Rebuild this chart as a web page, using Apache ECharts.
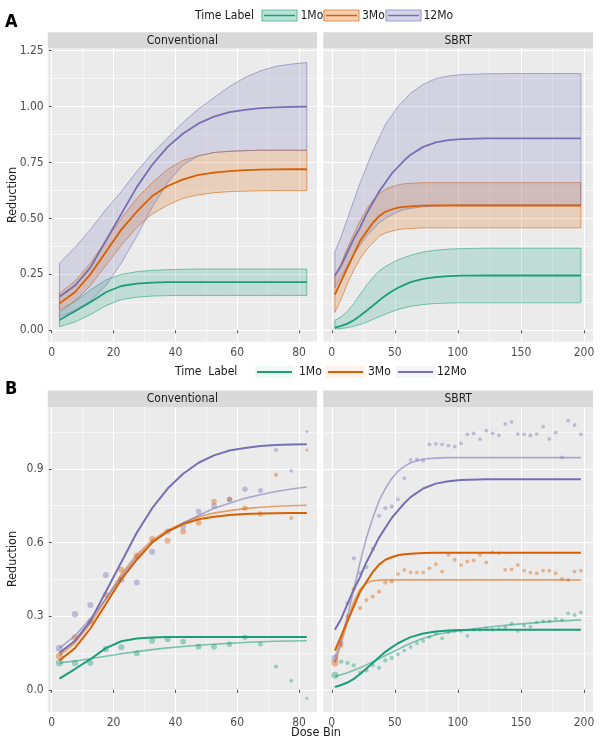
<!DOCTYPE html>
<html><head><meta charset="utf-8">
<script src="https://cdn.jsdelivr.net/npm/echarts@6/dist/echarts.min.js"></script>
<style>html,body{margin:0;padding:0;background:#fff}#c{width:600px;height:740px}</style>
</head><body><div id="c"></div>
<script>
// ---------- DATA ----------
const timeLabels = ['1Mo', '3Mo', '12Mo'];
const facets = ['Conventional', 'SBRT'];

const convXTicks = [0, 20, 40, 60, 80];
const sbrtXTicks = [0, 50, 100, 150, 200];
const aYTicks = [0, 0.25, 0.5, 0.75, 1.0, 1.25];
const bYTicks = [0, 0.3, 0.6, 0.9];

// Panel A - Conventional
const convX = [2.5,7.5,12.5,17.5,22.5,27.5,32.5,37.5,42.5,47.5,52.5,57.5,62.5,67.5,72.5,77.5,82.5];
const convMean1Mo = [0.046,0.085,0.125,0.17,0.198,0.209,0.213,0.215,0.215,0.215,0.215,0.215,0.215,0.215,0.215,0.215,0.215];
const convLo1Mo   = [0.016,0.037,0.07,0.11,0.137,0.148,0.153,0.155,0.156,0.156,0.156,0.156,0.156,0.156,0.156,0.156,0.156];
const convHi1Mo   = [0.08,0.13,0.18,0.225,0.25,0.262,0.268,0.271,0.273,0.274,0.274,0.274,0.274,0.274,0.274,0.274,0.274];
const convMean3Mo = [0.12,0.17,0.25,0.35,0.45,0.53,0.60,0.645,0.675,0.695,0.705,0.712,0.716,0.718,0.719,0.72,0.72];
const convLo3Mo   = [0.09,0.13,0.20,0.29,0.38,0.46,0.52,0.56,0.59,0.605,0.615,0.62,0.622,0.624,0.625,0.625,0.625];
const convHi3Mo   = [0.165,0.22,0.30,0.40,0.50,0.59,0.66,0.72,0.76,0.78,0.795,0.80,0.803,0.805,0.805,0.805,0.805];
const convMean12Mo = [0.15,0.20,0.28,0.40,0.52,0.64,0.74,0.82,0.88,0.925,0.955,0.975,0.985,0.993,0.997,0.999,1.0];
const convLo12Mo   = [0.06,0.09,0.13,0.20,0.30,0.42,0.55,0.66,0.74,0.78,0.795,0.80,0.803,0.805,0.805,0.805,0.805];
const convHi12Mo   = [0.30,0.37,0.45,0.54,0.62,0.71,0.79,0.86,0.93,0.99,1.04,1.09,1.13,1.16,1.18,1.19,1.197];

// Panel A - SBRT
const sbrtX = [2.5,7.5,12.5,17.5,22.5,27.5,32.5,37.5,42.5,47.5,52.5,57.5,62.5,72.5,82.5,92.5,102.5,122.5,147.5,172.5,197.5];
const sbrtMean1Mo = [0.012,0.02,0.03,0.045,0.065,0.087,0.11,0.133,0.155,0.173,0.19,0.203,0.215,0.23,0.238,0.242,0.244,0.245,0.245,0.245,0.245];
const sbrtLo1Mo   = [0.005,0.008,0.012,0.018,0.026,0.036,0.048,0.06,0.072,0.083,0.093,0.10,0.107,0.115,0.12,0.122,0.123,0.123,0.123,0.123,0.123];
const sbrtHi1Mo   = [0.045,0.06,0.085,0.12,0.16,0.20,0.235,0.265,0.285,0.30,0.315,0.325,0.335,0.35,0.358,0.363,0.365,0.367,0.367,0.367,0.367];
const sbrtMean3Mo = [0.16,0.22,0.28,0.34,0.40,0.44,0.48,0.51,0.53,0.54,0.548,0.552,0.554,0.557,0.558,0.558,0.558,0.558,0.558,0.558,0.558];
const sbrtLo3Mo   = [0.08,0.14,0.21,0.27,0.32,0.36,0.39,0.42,0.435,0.443,0.45,0.453,0.455,0.458,0.458,0.458,0.458,0.458,0.458,0.458,0.458];
const sbrtHi3Mo   = [0.24,0.30,0.37,0.43,0.49,0.54,0.58,0.61,0.63,0.642,0.65,0.655,0.657,0.66,0.66,0.66,0.66,0.66,0.66,0.66,0.66];
const sbrtMean12Mo = [0.245,0.29,0.35,0.41,0.46,0.52,0.57,0.62,0.66,0.70,0.73,0.76,0.785,0.82,0.84,0.85,0.855,0.858,0.858,0.858,0.858];
const sbrtLo12Mo   = [0.19,0.24,0.29,0.34,0.38,0.42,0.45,0.48,0.50,0.515,0.53,0.54,0.545,0.552,0.556,0.558,0.56,0.56,0.56,0.56,0.56];
const sbrtHi12Mo   = [0.35,0.42,0.50,0.58,0.66,0.73,0.80,0.86,0.92,0.96,1.00,1.03,1.06,1.10,1.125,1.137,1.143,1.147,1.148,1.148,1.148];

// Panel B - second fit curves
const convFit1Mo  = [0.11,0.118,0.127,0.137,0.147,0.156,0.164,0.171,0.177,0.182,0.186,0.19,0.193,0.196,0.198,0.199,0.20];
const convFit3Mo  = [0.14,0.19,0.27,0.37,0.47,0.55,0.61,0.65,0.68,0.705,0.72,0.73,0.738,0.744,0.748,0.75,0.752];
const convFit12Mo = [0.17,0.22,0.29,0.37,0.46,0.54,0.60,0.645,0.68,0.71,0.74,0.76,0.78,0.795,0.808,0.818,0.826];
const sbrtFit1Mo  = [0.055,0.062,0.07,0.08,0.09,0.102,0.115,0.127,0.14,0.152,0.165,0.178,0.19,0.21,0.225,0.235,0.242,0.255,0.268,0.278,0.285];
const sbrtFit3Mo  = [0.11,0.19,0.28,0.36,0.41,0.435,0.444,0.447,0.448,0.448,0.448,0.448,0.448,0.448,0.448,0.448,0.448,0.448,0.448,0.448,0.448];
const sbrtFit12Mo = [0.13,0.21,0.30,0.41,0.52,0.62,0.70,0.77,0.82,0.86,0.89,0.91,0.925,0.94,0.944,0.946,0.946,0.946,0.946,0.946,0.946];

// Panel B - observed points (dose bins)
const convBins = [2.5,7.5,12.5,17.5,22.5,27.5,32.5,37.5,42.5,47.5,52.5,57.5,62.5,67.5,72.5,77.5,82.5];
const convCount = [12,9,8,8,8,8,8,8,7,7,7,6,6,5,3,2,1];
const convPts1Mo  = [0.11,0.11,0.11,0.166,0.174,0.149,0.20,0.206,0.197,0.176,0.176,0.186,0.214,0.187,0.095,0.037,-0.034];
const convPts3Mo  = [0.138,0.214,0.28,0.387,0.489,0.546,0.614,0.607,0.645,0.681,0.767,0.776,0.74,0.717,0.876,0.70,0.977];
const convPts12Mo = [0.17,0.308,0.346,0.468,0.448,0.437,0.563,0.645,0.665,0.726,0.749,0.776,0.817,0.812,0.977,0.892,1.052];

const sbrtBins = [2.5,7.5,12.5,17.5,22.5,27.5,32.5,37.5,42.5,47.5,52.5,57.5,62.5,67.5,72.5,77.5,82.5,87.5,92.5,97.5,
                  102.5,107.5,112.5,117.5,122.5,127.5,132.5,137.5,142.5,147.5,152.5,157.5,162.5,167.5,172.5,177.5,182.5,187.5,192.5,197.5];
const sbrtCount = [12,3,3,3,3,3,3,3,3,3,2,2,2,2,2,2,2,2,2,2,2,2,2,2,2,2,2,2,2,2,2,2,2,2,2,2,2,2,2,2];
const sbrtPts1Mo  = [0.06,0.115,0.11,0.10,0.07,0.08,0.10,0.09,0.12,0.13,0.145,0.16,0.175,0.19,0.20,0.215,0.23,0.21,0.235,0.24,
                     0.24,0.22,0.245,0.245,0.248,0.245,0.248,0.255,0.27,0.24,0.262,0.258,0.275,0.28,0.28,0.29,0.285,0.312,0.305,0.316];
const sbrtPts3Mo  = [0.11,0.18,0.30,0.41,0.333,0.366,0.38,0.40,0.437,0.441,0.472,0.489,0.479,0.479,0.479,0.495,0.512,0.482,0.55,0.53,
                     0.509,0.523,0.527,0.55,0.519,0.559,0.557,0.489,0.491,0.509,0.486,0.478,0.475,0.486,0.486,0.475,0.452,0.448,0.482,0.486];
const sbrtPts12Mo = [0.13,0.19,0.353,0.536,0.475,0.50,0.574,0.709,0.74,0.747,0.776,0.862,0.937,0.939,0.933,1.00,1.002,1.0,0.995,0.991,
                     1.004,1.041,1.045,1.021,1.056,1.045,1.036,1.083,1.091,1.042,1.041,1.036,1.042,1.072,1.022,1.048,0.947,1.097,1.079,1.041];

// ---------- STYLE / LAYOUT ----------
const FONT = "'DejaVu Sans Condensed','Liberation Sans Narrow','DejaVu Sans',sans-serif";
const COLORS = ['#1B9E77', '#D95F02', '#7570B3'];
function rgba(hex, a) { const n = parseInt(hex.slice(1), 16); return 'rgba(' + ((n >> 16) & 255) + ',' + ((n >> 8) & 255) + ',' + (n & 255) + ',' + a + ')'; }

const GRIDS = [
  { left: 47.7, top: 48, width: 269.3, height: 293.7 },
  { left: 323.3, top: 48, width: 269.7, height: 293.7 },
  { left: 47.7, top: 407, width: 269.3, height: 305 },
  { left: 323.3, top: 407, width: 269.7, height: 305 }
];
const XSPEC = [
  { min: -1.3, max: 85.8, major: convXTicks, minor: [10, 30, 50, 70] },
  { min: -6.7, max: 207.1, major: sbrtXTicks, minor: [25, 75, 125, 175] },
  { min: -1.3, max: 85.8, major: convXTicks, minor: [10, 30, 50, 70] },
  { min: -6.7, max: 207.1, major: sbrtXTicks, minor: [25, 75, 125, 175] }
];
const YSPEC = [
  { min: -0.051, max: 1.262, major: aYTicks, minor: [0.125, 0.375, 0.625, 0.875, 1.125], dec: 2, labels: true },
  { min: -0.051, max: 1.262, major: aYTicks, minor: [0.125, 0.375, 0.625, 0.875, 1.125], dec: 2, labels: false },
  { min: -0.09, max: 1.152, major: bYTicks, minor: [0.15, 0.45, 0.75, 1.05], dec: 1, labels: true },
  { min: -0.09, max: 1.152, major: bYTicks, minor: [0.15, 0.45, 0.75, 1.05], dec: 1, labels: false }
];

const grid = GRIDS.map(g => Object.assign({ show: true, backgroundColor: '#EBEBEB', borderWidth: 0, containLabel: false, outerBoundsMode: 'none' }, g));
const xAxis = [], yAxis = [];
XSPEC.forEach((s, i) => {
  xAxis.push({
    gridIndex: i, type: 'value', min: s.min, max: s.max, position: 'bottom',
    axisLine: { show: false },
    axisTick: { show: true, length: 3, lineStyle: { color: '#555', width: 1 }, customValues: s.major },
    axisLabel: { show: true, customValues: s.major, color: '#4D4D4D', fontSize: 12, fontFamily: FONT, margin: 5, formatter: v => String(Math.round(v)) },
    splitLine: { show: true, lineStyle: { color: '#FFFFFF', width: 1.1 } }
  });
});
XSPEC.forEach((s, i) => {
  xAxis.push({
    gridIndex: i, type: 'value', min: s.min, max: s.max, position: 'top',
    axisLine: { show: false },
    axisTick: { show: false, customValues: s.minor },
    axisLabel: { show: false, customValues: s.minor },
    splitLine: { show: true, lineStyle: { color: '#FFFFFF', width: 0.5 } }
  });
});
YSPEC.forEach((s, i) => {
  yAxis.push({
    gridIndex: i, type: 'value', min: s.min, max: s.max, position: 'left',
    axisLine: { show: false },
    axisTick: { show: s.labels, length: 3, lineStyle: { color: '#555', width: 1 }, customValues: s.major },
    axisLabel: { show: s.labels, customValues: s.major, color: '#4D4D4D', fontSize: 12, fontFamily: FONT, margin: 4, formatter: v => v.toFixed(s.dec) },
    splitLine: { show: true, lineStyle: { color: '#FFFFFF', width: 1.1 } }
  });
});
YSPEC.forEach((s, i) => {
  yAxis.push({
    gridIndex: i, type: 'value', min: s.min, max: s.max, position: 'right',
    axisLine: { show: false },
    axisTick: { show: false, customValues: s.minor },
    axisLabel: { show: false, customValues: s.minor },
    splitLine: { show: true, lineStyle: { color: '#FFFFFF', width: 0.5 } }
  });
});

const zip = (xs, ys) => xs.map((x, i) => [x, ys[i]]);
const series = [];

function ribbon(xs, lo, hi, color, gi) {
  return {
    type: 'custom', xAxisIndex: gi, yAxisIndex: gi, silent: true, z: 2,
    data: xs.map((x, i) => [x, lo[i], hi[i]]),
    encode: { x: 0, y: [1, 2] },
    renderItem: function (params, api) {
      if (params.dataIndex !== 0) return null;
      const pts = [];
      for (let i = 0; i < xs.length; i++) pts.push(api.coord([xs[i], hi[i]]));
      for (let i = xs.length - 1; i >= 0; i--) pts.push(api.coord([xs[i], lo[i]]));
      return { type: 'polygon', shape: { points: pts }, style: { fill: rgba(color, 0.2), stroke: rgba(color, 0.55), lineWidth: 1 } };
    }
  };
}
function line(xs, ys, color, gi, width, z, name) {
  return { type: 'line', name: name, xAxisIndex: gi, yAxisIndex: gi, data: zip(xs, ys), showSymbol: false, symbol: 'none', silent: true, z: z,
    lineStyle: { color: color, width: width }, itemStyle: { color: color } };
}
function points(xs, ys, ns, color, gi) {
  return { type: 'scatter', xAxisIndex: gi, yAxisIndex: gi, silent: true, z: 3,
    data: xs.map((x, i) => [x, ys[i], ns[i]]), symbol: 'circle',
    symbolSize: v => 1.5 + 1.6 * Math.sqrt(v[2]),
    itemStyle: { color: rgba(color, 0.5) } };
}

// Panel A
const convA = [[convLo1Mo, convHi1Mo, convMean1Mo], [convLo3Mo, convHi3Mo, convMean3Mo], [convLo12Mo, convHi12Mo, convMean12Mo]];
const sbrtA = [[sbrtLo1Mo, sbrtHi1Mo, sbrtMean1Mo], [sbrtLo3Mo, sbrtHi3Mo, sbrtMean3Mo], [sbrtLo12Mo, sbrtHi12Mo, sbrtMean12Mo]];
convA.forEach((d, k) => series.push(ribbon(convX, d[0], d[1], COLORS[k], 0)));
sbrtA.forEach((d, k) => series.push(ribbon(sbrtX, d[0], d[1], COLORS[k], 1)));
convA.forEach((d, k) => series.push(line(convX, d[2], COLORS[k], 0, 1.8, 4)));
sbrtA.forEach((d, k) => series.push(line(sbrtX, d[2], COLORS[k], 1, 1.8, 4)));

// Panel B
const convP = [convPts1Mo, convPts3Mo, convPts12Mo];
const sbrtP = [sbrtPts1Mo, sbrtPts3Mo, sbrtPts12Mo];
const convF = [convFit1Mo, convFit3Mo, convFit12Mo];
const sbrtF = [sbrtFit1Mo, sbrtFit3Mo, sbrtFit12Mo];
convP.forEach((p, k) => series.push(points(convBins, p, convCount, COLORS[k], 2)));
sbrtP.forEach((p, k) => series.push(points(sbrtBins, p, sbrtCount, COLORS[k], 3)));
convF.forEach((f, k) => series.push(line(convX, f, rgba(COLORS[k], 0.55), 2, 1.6, 4)));
sbrtF.forEach((f, k) => series.push(line(sbrtX, f, rgba(COLORS[k], 0.55), 3, 1.6, 4)));
convA.forEach((d, k) => series.push(line(convX, d[2], COLORS[k], 2, 2, 5)));
sbrtA.forEach((d, k) => series.push(line(sbrtX, d[2], COLORS[k], 3, 2, 5)));

// Graphics: strips, titles, legends
const graphic = [];
const txt = (x, y, t, o) => Object.assign({ type: 'text', x: x, y: y, style: Object.assign({ text: t, font: '12px ' + FONT, fill: '#1A1A1A', align: 'left', verticalAlign: 'middle' }, o || {}) }, {});
function strip(g, top, h, label) {
  graphic.push({ type: 'rect', shape: { x: g.left, y: top, width: g.width, height: h }, style: { fill: '#D9D9D9' } });
  graphic.push(txt(g.left + g.width / 2, top + h / 2 + 0.5, label, { align: 'center' }));
}
strip(GRIDS[0], 32.3, 15.7, facets[0]);
strip(GRIDS[1], 32.3, 15.7, facets[1]);
strip(GRIDS[2], 390.5, 16.5, facets[0]);
strip(GRIDS[3], 390.5, 16.5, facets[1]);

graphic.push(txt(5, 22, 'A', { font: 'bold 18px ' + FONT, fill: '#000' }));
graphic.push(txt(5, 389, 'B', { font: 'bold 18px ' + FONT, fill: '#000' }));
graphic.push({ type: 'text', x: 13, y: 195, rotation: Math.PI / 2, style: { text: 'Reduction', font: '12.5px ' + FONT, fill: '#1A1A1A', align: 'center', verticalAlign: 'middle' } });
graphic.push({ type: 'text', x: 13, y: 559, rotation: Math.PI / 2, style: { text: 'Reduction', font: '12.5px ' + FONT, fill: '#1A1A1A', align: 'center', verticalAlign: 'middle' } });
graphic.push(txt(316, 733, 'Dose Bin', { align: 'center', font: '12.5px ' + FONT }));

// Legend A
graphic.push(txt(195, 15.5, 'Time Label', { font: '12px ' + FONT }));
const legAKeys = [262, 324, 386], legATxt = [300.5, 362, 423.5];
timeLabels.forEach((lab, k) => {
  const x = legAKeys[k];
  graphic.push({ type: 'rect', shape: { x: x, y: 10, width: 35, height: 11 }, style: { fill: rgba(COLORS[k], 0.3), stroke: rgba(COLORS[k], 0.6), lineWidth: 1.2 } });
  graphic.push({ type: 'line', shape: { x1: x + 2, y1: 15.5, x2: x + 33, y2: 15.5 }, style: { stroke: COLORS[k], lineWidth: 1.5 } });
  graphic.push(txt(legATxt[k], 15.5, lab));
});
// Legend B
graphic.push(txt(175, 372, 'Time  Label', { font: '12px ' + FONT }));
const legBKeys = [255, 326, 396], legBTxt = [299, 368, 437];
timeLabels.forEach((lab, k) => {
  const x = legBKeys[k];
  graphic.push({ type: 'rect', shape: { x: x, y: 366, width: 39, height: 12 }, style: { fill: rgba(COLORS[k], 0.08) } });
  graphic.push({ type: 'line', shape: { x1: x + 2, y1: 372, x2: x + 37, y2: 372 }, style: { stroke: COLORS[k], lineWidth: 2 } });
  graphic.push(txt(legBTxt[k], 372, lab));
});

const chart = echarts.init(document.getElementById('c'), null, { renderer: 'canvas' });
chart.setOption({
  animation: false,
  backgroundColor: '#FFFFFF',
  textStyle: { fontFamily: FONT },
  grid: grid, xAxis: xAxis, yAxis: yAxis, series: series, graphic: graphic
});
</script></body></html>
